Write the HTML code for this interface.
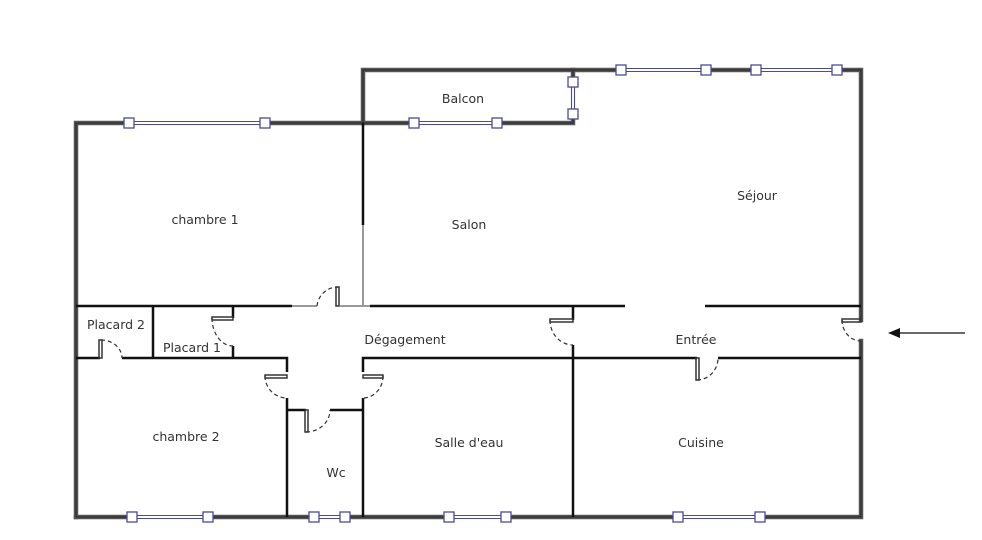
<!DOCTYPE html>
<html><head><meta charset="utf-8"><style>
html,body{margin:0;padding:0;background:#fff;width:982px;height:540px;overflow:hidden}
text{font-family:"DejaVu Sans","Liberation Sans",sans-serif;font-size:12.5px;fill:#333}
</style></head><body>
<svg width="982" height="540" viewBox="0 0 982 540" xmlns="http://www.w3.org/2000/svg">
<defs>
<g id="sq"><rect x="-5" y="-5" width="10" height="10" fill="#fff" stroke="#4a4a9a" stroke-width="1.3"/></g>
</defs>
<!-- outer walls -->
<g fill="none" stroke="#555" stroke-width="4.5" stroke-linecap="square">
<path d="M76,517 L76,123 L363,123"/>
<path d="M363,123 L573,123 L573,70 L363,70 L363,123"/>
<path d="M573,70 L861,70 L861,320"/>
<path d="M861,341 L861,517 L76,517"/>
</g>
<g fill="none" stroke="#222" stroke-width="1" stroke-linecap="square">
<path d="M76,517 L76,123 L363,123 M363,123 L573,123 L573,70 L363,70 L363,123 M573,70 L861,70 L861,320 M861,341 L861,517 L76,517"/>
</g>
<!-- interior walls -->
<g fill="none" stroke="#111" stroke-width="2.5">
<path d="M76,306 L292,306"/>
<path d="M370,306 L625,306 M705,306 L861,306"/>
<path d="M363,123 L363,225"/>
<path d="M153,306 L153,358 M233,306 L233,318 M233,346 L233,358"/>
<path d="M76,358 L100,358 M122,358 L287,358 L287,372 M287,398 L287,517"/>
<path d="M287,410 L306,410 M330,410 L363,410"/>
<path d="M363,372 L363,358 L697,358 M718,358 L861,358 M363,398 L363,517"/>
<path d="M573,306 L573,320 M573,345 L573,517"/>
</g>
<g fill="none" stroke="#999" stroke-width="2">
<path d="M292,306 L317,306 M340,306 L370,306 M363,225 L363,306"/>
</g>
<!-- doors -->
<g fill="none" stroke="#333" stroke-width="1.5">
<rect x="336" y="287" width="3" height="19"/>
<rect x="212" y="317" width="21" height="3"/>
<rect x="99" y="340" width="3" height="18"/>
<rect x="265" y="375" width="22" height="3"/>
<rect x="363" y="375" width="20" height="3"/>
<rect x="305" y="410" width="3" height="22"/>
<rect x="550" y="319" width="23" height="3"/>
<rect x="696" y="358" width="3" height="22"/>
<rect x="842" y="319" width="19" height="3"/>
</g>
<g fill="none" stroke="#333" stroke-width="1.2" stroke-dasharray="4,3">
<path d="M317,306 A21,21 0 0 1 338,287"/>
<path d="M212,318 A21,28 0 0 0 233,346"/>
<path d="M101,340 A21,18 0 0 1 122,358"/>
<path d="M265,376 A22,22 0 0 0 287,398"/>
<path d="M383,376 A20,22 0 0 1 363,398"/>
<path d="M306,432 A24,22 0 0 0 330,410"/>
<path d="M550,320 A23,25 0 0 0 573,345"/>
<path d="M697,380 A21,22 0 0 0 718,358"/>
<path d="M842,320 A19,21 0 0 0 861,341"/>
</g>
<!-- windows: white out wall first -->
<g fill="#fff">
<rect x="129" y="120.5" width="136" height="5"/>
<rect x="414" y="120.5" width="83" height="5"/>
<rect x="570.5" y="82" width="5" height="32"/>
<rect x="621" y="67.5" width="85" height="5"/>
<rect x="756" y="67.5" width="81" height="5"/>
<rect x="132" y="514.5" width="76" height="5"/>
<rect x="314" y="514.5" width="31" height="5"/>
<rect x="449" y="514.5" width="57" height="5"/>
<rect x="678" y="514.5" width="82" height="5"/>
</g>
<g stroke="#4a4a9a" stroke-width="1.1" fill="none">
<path d="M129,121.5 H265 M129,124.5 H265"/>
<path d="M414,121.5 H497 M414,124.5 H497"/>
<path d="M571.5,82 V114 M574.5,82 V114"/>
<path d="M621,68.5 H706 M621,71.5 H706 M756,68.5 H837 M756,71.5 H837"/>
<path d="M132,515.5 H208 M132,518.5 H208 M314,515.5 H345 M314,518.5 H345 M449,515.5 H506 M449,518.5 H506 M678,515.5 H760 M678,518.5 H760"/>
</g>
<g>
<use href="#sq" x="129" y="123"/><use href="#sq" x="265" y="123"/>
<use href="#sq" x="414" y="123"/><use href="#sq" x="497" y="123"/>
<use href="#sq" x="573" y="82"/><use href="#sq" x="573" y="114"/>
<use href="#sq" x="621" y="70"/><use href="#sq" x="706" y="70"/>
<use href="#sq" x="756" y="70"/><use href="#sq" x="837" y="70"/>
<use href="#sq" x="132" y="517"/><use href="#sq" x="208" y="517"/>
<use href="#sq" x="314" y="517"/><use href="#sq" x="345" y="517"/>
<use href="#sq" x="449" y="517"/><use href="#sq" x="506" y="517"/>
<use href="#sq" x="678" y="517"/><use href="#sq" x="760" y="517"/>
</g>
<!-- arrow -->
<path d="M965,333 L898,333" stroke="#111" stroke-width="1.2"/>
<path d="M888,333 L900,328 L900,338 Z" fill="#111"/>
<!-- labels -->
<text x="463" y="103" text-anchor="middle">Balcon</text>
<text x="205" y="224" text-anchor="middle">chambre 1</text>
<text x="469" y="229" text-anchor="middle">Salon</text>
<text x="757" y="200" text-anchor="middle">Séjour</text>
<text x="116" y="329" text-anchor="middle">Placard 2</text>
<text x="192" y="352" text-anchor="middle">Placard 1</text>
<text x="405" y="344" text-anchor="middle">Dégagement</text>
<text x="696" y="344" text-anchor="middle">Entrée</text>
<text x="186" y="441" text-anchor="middle">chambre 2</text>
<text x="469" y="447" text-anchor="middle">Salle d'eau</text>
<text x="701" y="447" text-anchor="middle">Cuisine</text>
<text x="336" y="477" text-anchor="middle">Wc</text>
</svg>
</body></html>
